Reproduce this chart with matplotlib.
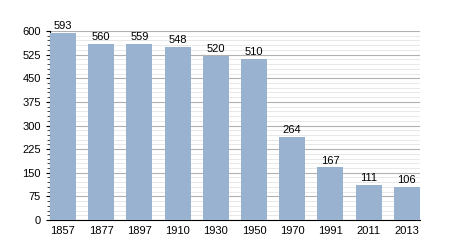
import matplotlib.pyplot as plt
import numpy as np
from matplotlib.ticker import MultipleLocator

years = ["1857", "1877", "1897", "1910", "1930", "1950", "1970", "1991", "2011", "2013"]
population = [593, 560, 559, 548, 520, 510, 264, 167, 111, 106]

plt.rcParams['font.family'] = ['Liberation Sans', 'DejaVu Sans']

fig = plt.figure(figsize=(4.5, 2.5), dpi=100)
ax = fig.add_axes([0.111, 0.12, 0.822, 0.756])

x = np.arange(len(years))
ax.bar(x, population, width=0.68, color='#98b2cf', zorder=3)
for xi, v in zip(x, population):
    ax.text(xi, v + 6, str(v), ha='center', va='bottom', fontsize=8, zorder=4)

ax.set_xlim(-0.34, len(years) - 1 + 0.34)
ax.set_ylim(0, 600)
ax.set_xticks(x)
ax.set_xticklabels(years)
ax.yaxis.set_major_locator(MultipleLocator(75))
ax.yaxis.set_minor_locator(MultipleLocator(15))
ax.grid(axis='y', which='major', color='#b0b0b0', linewidth=0.8, zorder=1)
ax.grid(axis='y', which='minor', color='#e4e4e4', linewidth=0.6, zorder=0)

for s in ['top', 'right']:
    ax.spines[s].set_visible(False)
ax.spines['left'].set_linewidth(0.8)
ax.spines['bottom'].set_linewidth(0.8)
ax.tick_params(axis='both', labelsize=8, length=3, width=0.8)
ax.tick_params(axis='y', which='minor', length=2, width=0.5)
ax.tick_params(axis='x', length=0, pad=4)

fig.savefig('out.png', dpi=100)
